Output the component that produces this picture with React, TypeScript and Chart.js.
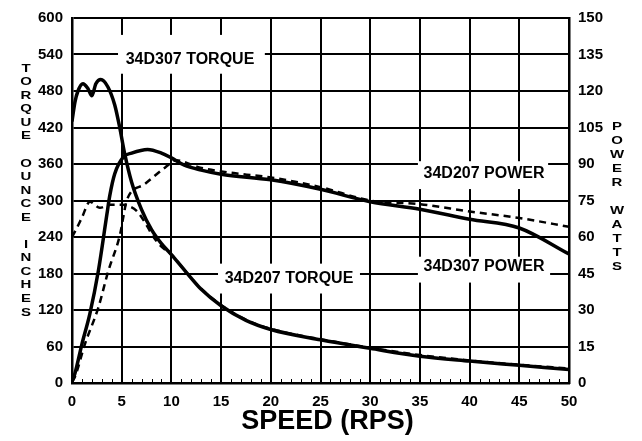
import React, { useEffect, useRef } from "react";
import { Chart, registerables } from "chart.js";

Chart.register(...registerables);

// ---- data ----
const speedTicks = [0, 5, 10, 15, 20, 25, 30, 35, 40, 45, 50];
const torqueTicks = [0, 60, 120, 180, 240, 300, 360, 420, 480, 540, 600];
const powerTicks = [0, 15, 30, 45, 60, 75, 90, 105, 120, 135, 150];

const t307Speed = [0, 0.3, 0.6, 1.1, 1.6, 2.0, 2.4, 2.9, 3.6, 4.3, 4.8, 5.3, 6.0, 7.0, 8.0, 9.0, 10, 11.5, 13, 15, 17.5, 20, 25, 30, 35, 40, 45, 50];
const t307Torque = [430, 462, 480, 492, 484, 472, 492, 499, 487, 457, 420, 377, 330, 285, 252, 229, 211, 182, 154, 127, 103, 88, 71, 57, 44, 36, 29, 22];

const t207Speed = [0, 0.4, 1.0, 1.8, 2.8, 3.8, 5.0, 5.5, 6.5, 7.3, 8.2, 9.0, 10, 11.5, 13, 15, 17.5, 20, 25, 30, 35, 40, 45, 50];
const t207Torque = [240, 252, 272, 298, 288, 293, 293, 292, 283, 265, 240, 224, 211, 182, 155, 128, 104, 89, 72, 58, 46, 37, 30, 24];

const p307Speed = [0, 0.3, 1.0, 1.8, 2.65, 3.5, 3.8, 4.3, 5.2, 6.0, 7.6, 9.0, 10, 11.3, 13, 15, 20, 25, 30, 35, 40, 45, 50];
const p307Watts = [0.5, 4, 16, 28.5, 46, 69, 77, 86, 93, 94.5, 96, 94.5, 92.5, 89.5, 87.5, 85.8, 83.5, 79.6, 74.5, 71.4, 67.3, 63.7, 53];

const p207Speed = [0, 0.3, 1.3, 2.65, 3.65, 4.83, 5.2, 5.5, 7.3, 9.35, 10.5, 12.9, 17.2, 20, 25, 30, 35, 40, 45, 50];
const p207Watts = [0.5, 2.6, 16, 31, 46, 61, 69, 75, 81.7, 88.5, 91.5, 88.5, 85.8, 84.5, 80.5, 75, 73.5, 70.5, 67.8, 64.2];

const curveLabels = ["34D307 TORQUE", "34D207 TORQUE", "34D207 POWER", "34D307 POWER"];
const leftTitle = "TORQUE OUNCE INCHES";
const rightTitle = "POWER WATTS";
const xTitle = "SPEED (RPS)";

const FONT = "'Liberation Sans', Arial, Helvetica, sans-serif";

const pts = (xs: number[], ys: number[]) => xs.map((x, i) => ({ x, y: ys[i] }));

// label placements in data units: [cx, cy, x0, x1, y0, y1] (left-axis units)
const labelPlacement = [
  [11.87, 532, 4.63, 19.4, 508.4, 572.2],
  [21.83, 171.7, 14.69, 28.97, 147.1, 196.2],
  [41.45, 345, 34.8, 47.9, 318.8, 364.6],
  [41.45, 191.3, 34.8, 48.1, 165.1, 207.6],
];

const decorPlugin = {
  id: "decor",
  beforeDatasetsDraw(chart: any) {
    const { ctx, scales } = chart;
    const xs = scales.x;
    const ys = scales.y;
    const area = chart.chartArea;
    ctx.save();
    ctx.strokeStyle = "#000";
    ctx.lineWidth = 1;
    for (let v = 1; v < 50; v++) {
      if (v % 5 === 0) continue;
      const px = Math.round(xs.getPixelForValue(v)) + 0.5;
      ctx.beginPath();
      ctx.moveTo(px, area.bottom);
      ctx.lineTo(px, area.bottom - 4);
      ctx.stroke();
    }
    curveLabels.forEach((t, i) => {
      const [cx, cy, x0, x1, y0, y1] = labelPlacement[i];
      const px0 = xs.getPixelForValue(x0);
      const px1 = xs.getPixelForValue(x1);
      const py0 = ys.getPixelForValue(y1);
      const py1 = ys.getPixelForValue(y0);
      ctx.fillStyle = "#fff";
      ctx.fillRect(px0, py0, px1 - px0, py1 - py0);
      ctx.fillStyle = "#000";
      ctx.font = `bold 16px ${FONT}`;
      ctx.textAlign = "center";
      ctx.textBaseline = "middle";
      ctx.fillText(t, xs.getPixelForValue(cx), ys.getPixelForValue(cy));
    });
    ctx.restore();
  },
  afterDraw(chart: any) {
    const { ctx } = chart;
    ctx.save();
    ctx.fillStyle = "#000";
    ctx.textAlign = "center";
    ctx.textBaseline = "middle";
    ctx.font = `bold 11.5px ${FONT}`;
    const drawStack = (text: string, x: number, y0: number, step: number) => {
      [...text].forEach((ch, i) => {
        if (ch === " ") return;
        ctx.save();
        ctx.translate(x, y0 + i * step);
        ctx.scale(1.3, 1);
        ctx.fillText(ch, 0, 0);
        ctx.restore();
      });
    };
    drawStack(leftTitle, 26, 68.5, 13.55);
    drawStack(rightTitle, 617, 127, 14);
    ctx.font = `bold 27px ${FONT}`;
    ctx.textBaseline = "alphabetic";
    ctx.fillText(xTitle, 327.5, 429);
    ctx.restore();
  },
};

export default function App() {
  const ref = useRef<HTMLCanvasElement | null>(null);
  useEffect(() => {
    if (!ref.current) return;
    const tickFont = { family: FONT, size: 15, weight: "bold" as const };
    const chart = new Chart(ref.current, {
      type: "line",
      data: {
        datasets: [
          {
            label: "34D307 TORQUE",
            data: pts(t307Speed, t307Torque),
            yAxisID: "y",
            borderColor: "#000",
            borderWidth: 3.5,
            pointRadius: 0,
            cubicInterpolationMode: "monotone",
          },
          {
            label: "34D207 TORQUE",
            data: pts(t207Speed, t207Torque),
            yAxisID: "y",
            borderColor: "#000",
            borderWidth: 2.5,
            borderDash: [7, 5],
            pointRadius: 0,
            cubicInterpolationMode: "monotone",
          },
          {
            label: "34D307 POWER",
            data: pts(p307Speed, p307Watts),
            yAxisID: "y1",
            borderColor: "#000",
            borderWidth: 3.5,
            pointRadius: 0,
            cubicInterpolationMode: "monotone",
          },
          {
            label: "34D207 POWER",
            data: pts(p207Speed, p207Watts),
            yAxisID: "y1",
            borderColor: "#000",
            borderWidth: 2.5,
            borderDash: [7, 5],
            pointRadius: 0,
            cubicInterpolationMode: "monotone",
          },
        ],
      },
      options: {
        responsive: false,
        animation: false,
        layout: { padding: { top: 15, left: 0, right: 0, bottom: 0 } },
        plugins: { legend: { display: false }, tooltip: { enabled: false } },
        scales: {
          x: {
            type: "linear",
            min: 0,
            max: 50,
            afterBuildTicks: (s: any) => {
              s.ticks = speedTicks.map((v) => ({ value: v }));
            },
            afterFit: (s: any) => {
              s.height = 58;
            },
            grid: { color: "#000", lineWidth: 2, drawTicks: false },
            border: { display: true, color: "#000", width: 2.5 },
            ticks: { color: "#000", font: tickFont, padding: 10, maxRotation: 0 },
          },
          y: {
            type: "linear",
            position: "left",
            min: 0,
            max: 600,
            afterBuildTicks: (s: any) => {
              s.ticks = torqueTicks.map((v) => ({ value: v }));
            },
            afterFit: (s: any) => {
              s.width = 72;
            },
            grid: { color: "#000", lineWidth: 2, drawTicks: false },
            border: { display: true, color: "#000", width: 2.5 },
            ticks: { color: "#000", font: tickFont, padding: 9 },
          },
          y1: {
            type: "linear",
            position: "right",
            min: 0,
            max: 150,
            afterBuildTicks: (s: any) => {
              s.ticks = powerTicks.map((v) => ({ value: v }));
            },
            afterFit: (s: any) => {
              s.width = 73;
            },
            grid: { display: false, drawTicks: false },
            border: { display: true, color: "#000", width: 2.5 },
            ticks: { color: "#000", font: tickFont, padding: 9 },
          },
        },
      },
      plugins: [decorPlugin],
    } as any);
    return () => chart.destroy();
  }, []);
  return (
    <div style={{ position: "fixed", left: 0, top: 0, width: 642, height: 441, background: "#fff" }}>
      <canvas ref={ref} width={642} height={441} style={{ display: "block", width: 642, height: 441 }} />
    </div>
  );
}
